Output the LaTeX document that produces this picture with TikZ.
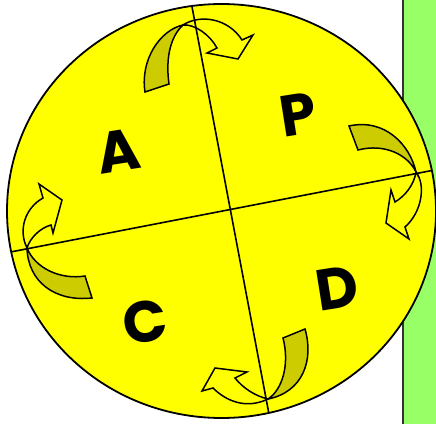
\documentclass[tikz,border=0pt]{standalone}
\usepackage{fontspec}
\newfontfamily\letterfont{Poppins}[UprightFont=* Bold]
\definecolor{panelgreen}{RGB}{153,255,102}
\definecolor{olive}{RGB}{204,204,0}
\definecolor{sunyellow}{RGB}{255,255,0}
\tikzset{
  arrowpart/.style={draw=black, line width=1.5pt, line join=miter},
  divider/.style={draw=black, line width=1.6pt},
  letter/.style={font=\letterfont\fontsize{58}{58}\selectfont, inner sep=0pt, rotate=9}
}
\begin{document}
\begin{tikzpicture}[x=1pt,y=-1pt]
\useasboundingbox (0,0) rectangle (436,423);
\fill[white] (0,0) rectangle (436,423);
% green side panel
\fill[panelgreen] (403,-2) rectangle (440,426);
\draw[line width=1.6pt, black!80] (403,-2) -- (403,426);
% disc
\fill[sunyellow] (221.5,211) ellipse [x radius=214.5, y radius=207];

% top arrow
\filldraw[arrowpart, fill=sunyellow] (183,25) .. controls (200,14) and (228,18) .. (242,40) -- (253,35) -- (238,59) -- (207,53) -- (217,48) .. controls (210,35) and (195,24) .. (183,25) -- cycle;
\filldraw[arrowpart, fill=olive] (145,92) .. controls (140,60) and (160,30) .. (183,25) .. controls (172,35) and (165,55) .. (169,84) -- cycle;
% right arrow
\filldraw[arrowpart, fill=sunyellow] (416,172) .. controls (426,185) and (422,212) .. (405,227) -- (409,239) -- (386,223) -- (391,190) -- (395,202) .. controls (405,196) and (414,185) .. (416,172) -- cycle;
\filldraw[arrowpart, fill=olive] (349,126) .. controls (385,118) and (410,145) .. (416,172) .. controls (408,155) and (385,143) .. (358,150) -- cycle;
% bottom arrow
\filldraw[arrowpart, fill=sunyellow] (268,399) .. controls (255,396) and (243,388) .. (235,378) -- (247,372) -- (215,368) -- (202,391) -- (213,388) .. controls (225,400) and (245,410) .. (268,399) -- cycle;
\filldraw[arrowpart, fill=olive] (283,338) .. controls (290,365) and (282,390) .. (268,399) .. controls (303,392) and (314,360) .. (305,329) -- cycle;
% left arrow
\filldraw[arrowpart, fill=sunyellow] (27,248) .. controls (18,230) and (25,208) .. (43,198) -- (39,184) -- (62,200) -- (53,233) -- (51,225) .. controls (40,228) and (30,238) .. (27,248) -- cycle;
\filldraw[arrowpart, fill=olive] (85,276) .. controls (60,280) and (35,268) .. (27,248) .. controls (28,282) and (55,302) .. (92,298) -- cycle;

% dividing lines
\begin{scope}
\clip (221.5,211) ellipse [x radius=214.5, y radius=207];
\coordinate (vt) at (189.2,-8);
\coordinate (vb) at (272,430);
\coordinate (hl) at (-5,255);
\coordinate (hr) at (450,167);
\draw[divider] (vt) -- (vb);
\draw[divider] (hl) -- (hr);
\end{scope}
\draw[line width=1.8pt] (221.5,211) ellipse [x radius=214.5, y radius=207];

% letters
\node[letter] (A) at (118,151) {A};
\node[letter] (P) at (298,115) {P};
\node[letter] (C) at (145,322) {C};
\node[letter] (D) at (337,288) {D};
\end{tikzpicture}
\end{document}
